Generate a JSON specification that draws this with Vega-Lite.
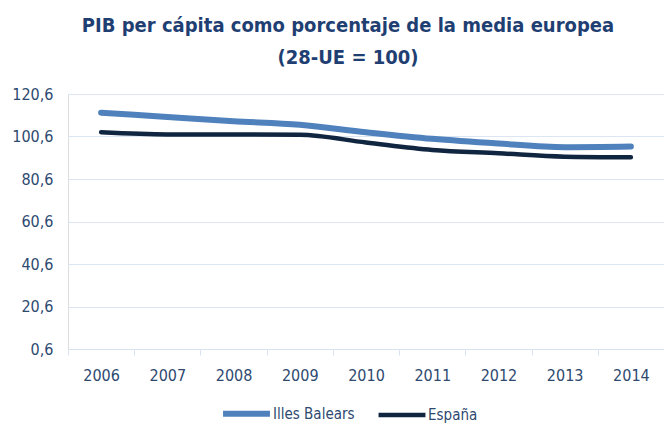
{
  "$schema": "https://vega.github.io/schema/vega-lite/v6.json",
  "width": 596,
  "height": 255,
  "autosize": {"type": "none"},
  "padding": {"left": 68, "top": 94, "right": 0, "bottom": 74},
  "background": "white",
  "title": {
    "text": ["PIB per cápita como porcentaje de la media europea", "(28-UE = 100)"],
    "font": "DejaVu Sans Condensed, sans-serif",
    "fontSize": 20,
    "fontWeight": "bold",
    "color": "#1F3F73",
    "lineHeight": 32,
    "anchor": "middle",
    "dx": -18,
    "offset": 18
  },
  "data": {
    "values": [
      {"year": "2006", "serie": "Illes Balears", "v": 111.8},
      {"year": "2007", "serie": "Illes Balears", "v": 109.8},
      {"year": "2008", "serie": "Illes Balears", "v": 107.8},
      {"year": "2009", "serie": "Illes Balears", "v": 106.1},
      {"year": "2010", "serie": "Illes Balears", "v": 102.6},
      {"year": "2011", "serie": "Illes Balears", "v": 99.5},
      {"year": "2012", "serie": "Illes Balears", "v": 97.3},
      {"year": "2013", "serie": "Illes Balears", "v": 95.6},
      {"year": "2014", "serie": "Illes Balears", "v": 95.9},
      {"year": "2006", "serie": "España", "v": 102.6},
      {"year": "2007", "serie": "España", "v": 101.6},
      {"year": "2008", "serie": "España", "v": 101.6},
      {"year": "2009", "serie": "España", "v": 101.4},
      {"year": "2010", "serie": "España", "v": 97.8},
      {"year": "2011", "serie": "España", "v": 94.3},
      {"year": "2012", "serie": "España", "v": 92.7},
      {"year": "2013", "serie": "España", "v": 91.1},
      {"year": "2014", "serie": "España", "v": 90.8}
    ]
  },
  "mark": {"type": "line", "interpolate": "monotone", "strokeCap": "round"},
  "encoding": {
    "x": {
      "field": "year",
      "type": "ordinal",
      "scale": {"paddingInner": 0, "paddingOuter": 0, "align": 0.5},
      "axis": {
        "title": null,
        "labelAngle": 0,
        "labelFont": "DejaVu Sans Condensed, sans-serif",
        "labelFontSize": 16,
        "labelColor": "#2E4A70",
        "labelPadding": 12,
        "domainColor": "#D9E2F0",
        "tickColor": "#D9E2F0",
        "tickBand": "extent",
        "tickSize": 6,
        "grid": false
      }
    },
    "y": {
      "field": "v",
      "type": "quantitative",
      "scale": {"domain": [0.6, 120.6], "nice": false, "zero": false},
      "axis": {
        "title": null,
        "values": [0.6, 20.6, 40.6, 60.6, 80.6, 100.6, 120.6],
        "labelExpr": "replace(format(datum.value, '.1f'), '.', ',')",
        "labelFont": "DejaVu Sans Condensed, sans-serif",
        "labelFontSize": 16,
        "labelColor": "#2E4A70",
        "labelPadding": 15,
        "domain": false,
        "ticks": false,
        "gridColor": "#DCE5F2",
        "gridWidth": 1.2
      }
    },
    "color": {
      "field": "serie",
      "type": "nominal",
      "scale": {"domain": ["Illes Balears", "España"], "range": ["#4F81BD", "#10253F"]},
      "legend": {
        "title": null,
        "orient": "none",
        "direction": "horizontal",
        "legendX": 152,
        "legendY": 293,
        "symbolType": "stroke",
        "symbolSize": 2200,
        "symbolStrokeWidth": 5,
        "labelFont": "DejaVu Sans Condensed, sans-serif",
        "labelFontSize": 15,
        "labelColor": "#2E4A70",
        "labelOffset": 0,
        "columnPadding": 14
      }
    },
    "strokeWidth": {
      "field": "serie",
      "type": "nominal",
      "scale": {"domain": ["Illes Balears", "España"], "range": [6, 4.5]},
      "legend": null
    }
  }
}
